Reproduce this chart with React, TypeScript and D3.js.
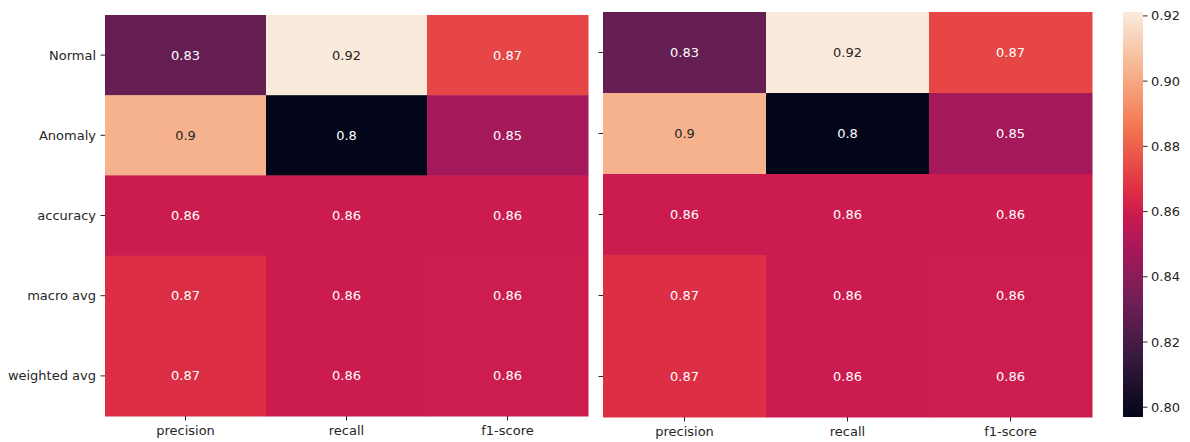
import React from "react";
import * as d3 from "d3";

const rows = ["Normal", "Anomaly", "accuracy", "macro avg", "weighted avg"];
const cols = ["precision", "recall", "f1-score"];
const precision = [0.829, 0.903, 0.859, 0.866, 0.866];
const recall = [0.921, 0.797, 0.859, 0.859, 0.859];
const f1score = [0.873, 0.848, 0.859, 0.86, 0.86];
const cbTicks = [0.8, 0.82, 0.84, 0.86, 0.88, 0.9, 0.92];
const vmin = 0.797;
const vmax = 0.9212;

const rocketOffsets = [0, 1 / 7, 2 / 7, 3 / 7, 0.5, 4 / 7, 5 / 7, 6 / 7, 1];
const rocketStops = ["#03051a", "#35193e", "#701f57", "#ad1759", "#cb1b4f", "#e13342", "#f37651", "#f6b48f", "#faebdd"];
const rocketScale = d3.scaleLinear<string>().domain(rocketOffsets).range(rocketStops).interpolate(d3.interpolateRgb).clamp(true);
const rocket = (t: number) => rocketScale(t);

const W = 1190;
const H = 442;
const FONT = "DejaVu Sans, sans-serif";
const TEXT = "#262626";

function lum(c: string) {
  const rgb = d3.rgb(c);
  const f = (v: number) => {
    v /= 255;
    return v <= 0.03928 ? v / 12.92 : Math.pow((v + 0.055) / 1.055, 2.4);
  };
  return 0.2126 * f(rgb.r) + 0.7152 * f(rgb.g) + 0.0722 * f(rgb.b);
}

const seriesByCol = [precision, recall, f1score];
const fmt = d3.format(".2~g");

function Heatmap({ x0, x1, y0, y1, labels }: { x0: number; x1: number; y0: number; y1: number; labels: boolean }) {
  const x = d3.scaleBand<string>().domain(cols).range([x0, x1]);
  const y = d3.scaleBand<string>().domain(rows).range([y0, y1]);
  const color = d3.scaleSequential(rocket).domain([vmin, vmax]);
  const cells: React.ReactNode[] = [];
  cols.forEach((c, ci) => {
    rows.forEach((r, ri) => {
      const v = seriesByCol[ci][ri];
      const fill = color(v) as string;
      const tc = lum(fill) > 0.408 ? TEXT : "#ffffff";
      cells.push(
        <g key={c + r}>
          <rect x={x(c)!} y={y(r)!} width={x.bandwidth() + 0.5} height={y.bandwidth() + 0.5} fill={fill} />
          <text
            x={x(c)! + x.bandwidth() / 2}
            y={y(r)! + y.bandwidth() / 2}
            textAnchor="middle"
            dominantBaseline="central"
            fontSize={13}
            fill={tc}
          >
            {fmt(v)}
          </text>
        </g>
      );
    });
  });
  return (
    <g fontFamily={FONT}>
      {cells}
      {rows.map((r) => {
        const cy = y(r)! + y.bandwidth() / 2;
        return (
          <g key={"yt" + r}>
            <line x1={x0 - 4.5} x2={x0} y1={cy} y2={cy} stroke={TEXT} strokeWidth={1} />
            {labels && (
              <text x={x0 - 9} y={cy} textAnchor="end" dominantBaseline="central" fontSize={13} fill={TEXT}>
                {r}
              </text>
            )}
          </g>
        );
      })}
      {cols.map((c) => {
        const cx = x(c)! + x.bandwidth() / 2;
        return (
          <g key={"xt" + c}>
            <line x1={cx} x2={cx} y1={y1} y2={y1 + 4.5} stroke={TEXT} strokeWidth={1} />
            <text x={cx} y={y1 + 9} dy="0.76em" textAnchor="middle" fontSize={13} fill={TEXT}>
              {c}
            </text>
          </g>
        );
      })}
    </g>
  );
}

function Colorbar({ x0, x1, y0, y1 }: { x0: number; x1: number; y0: number; y1: number }) {
  const s = d3.scaleLinear().domain([vmin, vmax]).range([y1, y0]);
  const stops = d3.range(0, 1.0001, 0.02);
  return (
    <g fontFamily={FONT}>
      <defs>
        <linearGradient id="cbgrad" x1="0" y1="1" x2="0" y2="0">
          {stops.map((t) => (
            <stop key={t} offset={t} stopColor={rocket(t)} />
          ))}
        </linearGradient>
      </defs>
      <rect x={x0} y={y0} width={x1 - x0} height={y1 - y0} fill="url(#cbgrad)" />
      {cbTicks.map((t) => (
        <g key={t}>
          <line x1={x1} x2={x1 + 4.5} y1={s(t)} y2={s(t)} stroke={TEXT} />
          <text x={x1 + 8} y={s(t)} dominantBaseline="central" fontSize={13} fill={TEXT}>
            {d3.format(".2f")(t)}
          </text>
        </g>
      ))}
    </g>
  );
}

export default function App() {
  return (
    <svg width={W} height={H} style={{ position: "absolute", left: 0, top: 0, background: "#fff" }}>
      <rect width={W} height={H} fill="#fff" />
      <Heatmap x0={105} x1={588} y0={15} y1={416} labels={true} />
      <Heatmap x0={603} x1={1092} y0={12} y1={417} labels={false} />
      <Colorbar x0={1123} x1={1143} y0={12} y1={417} />
    </svg>
  );
}
